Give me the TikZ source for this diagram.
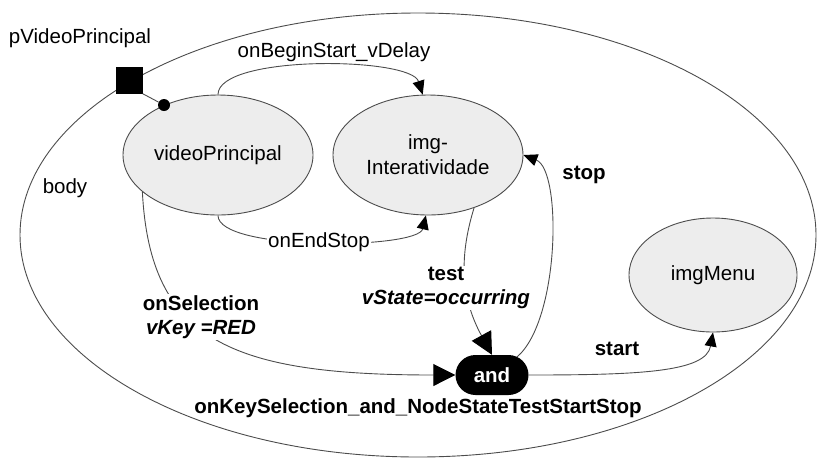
\documentclass[tikz,border=0pt]{standalone}
\usepackage{fontspec}
\setmainfont{Liberation Sans}
\usetikzlibrary{arrows.meta,shapes.geometric,shapes.misc}
\begin{document}
\begin{tikzpicture}[x=1pt,y=-1pt,
  font=\fontsize{20.5}{25}\selectfont,
  line/.style={draw=black!70,line width=0.9pt},
  media/.style={ellipse,draw=black!70,line width=0.9pt,fill=black!7,inner sep=0pt,
    minimum width=190pt,minimum height=120pt,align=center},
  smallarr/.style={line,-{Triangle[length=14pt,width=12pt,color=black]}},
  bigarr/.style={line,-{Triangle[length=22pt,width=22pt,color=black]}},
  lbl/.style={inner sep=1pt,align=center},
  blbl/.style={lbl,font=\fontsize{20.5}{24}\selectfont\bfseries},
]
\useasboundingbox (0,0) rectangle (818,459);

% context (body)
\draw[line] (418,235) ellipse [x radius=398, y radius=222];
\node[lbl] (bodylbl) at (65,188) {body};

% media
\node[media] (vp) at (218,155) {videoPrincipal};
\node[media] (img) at (428,155) {img-\\Interatividade};
\node[media,minimum width=168pt,minimum height=114pt] (menu) at (713,275) {imgMenu};

% port
\node[fill=black,minimum size=27pt,inner sep=0pt] (port) at (129,80) {};
\node[lbl] (portlbl) at (80,38) {pVideoPrincipal};
\node[circle,fill=black,minimum size=12pt,inner sep=0pt] (dot) at (164,105) {};

% and connector
\node[rounded rectangle,fill=black,text=white,minimum width=73pt,minimum height=40pt,
  inner sep=0pt,font=\fontsize{20.5}{24}\selectfont\bfseries] (and) at (492,375) {and};
\node[blbl] (andlbl) at (418,408) {onKeySelection\_and\_NodeStateTestStartStop};
\coordinate (andne) at (517,357);

% port mapping
\draw[line] (port.south east) -- (dot);

% onBeginStart
\draw[smallarr] (vp.north) .. controls +(0,-40) and +(-12,-38) .. (img.95);
\node[lbl] (beglbl) at (334,52) {onBeginStart\_vDelay};

% onEndStop
\draw[smallarr] (vp.south) .. controls +(0,36) and +(-8,34) .. (img.268)
  node[pos=0.5,lbl,fill=white] (endlbl) {onEndStop};

% onSelection
\draw[bigarr] (vp.206) .. controls (150,340) and (230,375) .. (and.west);
\node[blbl,fill=white] (sellbl) at (201,317) {onSelection\\\textit{vKey =RED}};

% test
\draw[bigarr] (img.311) .. controls (458,260) and (462,300) .. (and.north);
\node[blbl,fill=white] (testlbl) at (446,288) {test\\\textit{vState=occurring}};

% stop
\draw[smallarr] (andne) .. controls (560,320) and (562,170) .. (img.east);
\node[blbl] (stoplbl) at (584,175) {stop};

% start
\draw[smallarr] (and.east) .. controls (640,375) and (706,372) .. (menu.south);
\node[blbl] (startlbl) at (617,349) {start};
\end{tikzpicture}
\end{document}
